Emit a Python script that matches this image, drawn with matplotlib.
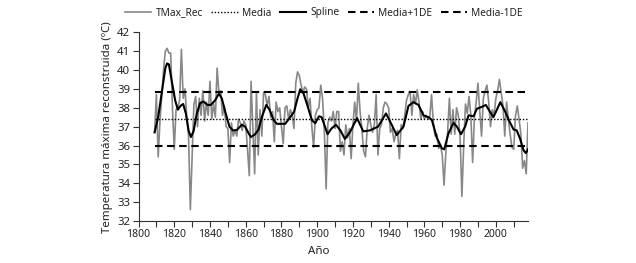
#!/usr/bin/env python
"""
Reconstructed maximum temperature series with spline and mean +/- 1 SD.
"""

import matplotlib
matplotlib.use('Agg')
import matplotlib.pyplot as plt
import matplotlib.ticker as mtick

plt.rcParams['font.family'] = ['Noto Sans', 'DejaVu Sans']

FIRST_YEAR = 1809
TMAX_REC = [
    36.7, 38.7, 35.4, 37.3, 38.6, 40.0, 41.0, 41.15, 40.9, 40.9, 38.0,  # 1809-1819
    35.8, 37.9, 38.0, 38.4, 41.1, 38.5, 39.0, 37.5, 36.5, 32.6,  # 1820s
    35.4, 38.2, 38.6, 37.0, 38.5, 37.6, 38.9, 37.3, 38.3, 37.6,  # 1830s
    39.4, 37.4, 38.2, 37.5, 40.1, 38.8, 38.9, 37.6, 38.1, 37.0,  # 1840s
    36.9, 35.1, 37.2, 36.5, 36.8, 36.5, 37.4, 37.2, 36.8, 37.3,  # 1850s
    37.1, 35.8, 34.4, 39.4, 37.0, 34.5, 38.8, 35.5, 37.9, 36.5,  # 1860s
    38.8, 38.7, 38.1, 38.6, 37.5, 37.8, 36.2, 38.3, 37.8, 38.0,  # 1870s
    37.0, 36.1, 38.0, 38.1, 37.4, 37.9, 37.6, 36.9, 39.3, 39.9,  # 1880s
    39.7, 39.2, 38.8, 39.1, 39.0, 38.0, 38.5, 37.0, 35.9, 37.6,  # 1890s
    37.9, 38.0, 39.2, 38.5, 36.8, 33.7, 37.2, 37.5, 37.3, 37.8,  # 1900s
    36.9, 37.8, 37.8, 35.7, 36.2, 35.5, 37.1, 36.4, 36.9, 35.3,  # 1910s
    37.1, 38.3, 37.3, 39.3, 37.8, 36.9, 35.7, 35.4, 36.9, 37.6,  # 1920s
    37.1, 36.7, 37.1, 38.7, 35.5, 36.9, 37.1, 38.0, 38.3, 38.2,  # 1930s
    38.0, 36.7, 36.9, 36.2, 36.6, 36.8, 35.3, 37.1, 36.9, 37.6,  # 1940s
    38.4, 38.7, 38.85, 37.6, 38.7, 38.2, 38.95, 38.3, 37.4, 37.8,  # 1950s
    37.4, 37.6, 37.4, 37.5, 38.7, 37.2, 36.5, 36.6, 35.85, 36.0,  # 1960s
    35.5, 33.9, 35.6, 36.7, 38.5, 36.6, 37.9, 36.6, 38.0, 37.6,  # 1970s
    36.4, 33.3, 36.0, 38.2, 37.7, 38.6, 37.6, 35.1, 37.5, 38.3,  # 1980s
    39.3, 37.8, 36.5, 38.5, 38.9, 39.2, 38.3, 37.0, 37.9, 37.6,  # 1990s
    38.5, 38.9, 39.5, 38.8, 38.1, 36.5, 38.3, 37.4, 36.6, 35.9,  # 2000s
    35.8, 37.6, 38.1, 37.4, 36.6, 34.8, 35.2, 34.5, 37.2,  # 2010-2018
]
YEARS = list(range(FIRST_YEAR, FIRST_YEAR + len(TMAX_REC)))

SPLINE_YEARS = [
    1809, 1811, 1813, 1815, 1816, 1817, 1819, 1820.5, 1822, 1823.5, 1825, 1826.5,
    1828, 1829.3, 1830.8, 1832.6, 1834.5, 1836.4, 1838.6, 1840.5, 1842.9, 1845,
    1846.6, 1848.5, 1850.9, 1852.8, 1855, 1857.8, 1859.7, 1861.6, 1862.9, 1865.3,
    1867.2, 1869, 1871.5, 1873.3, 1875.6, 1877.4, 1880.2, 1882.1, 1884.5, 1887.1,
    1889, 1890.5, 1892.4, 1894.6, 1897, 1898.9, 1901, 1902.5, 1904, 1905.8, 1908,
    1910.5, 1913, 1915.5, 1918.3, 1922.3, 1925.8, 1929.5, 1934.1, 1938.5, 1941.7,
    1944.5, 1948.3, 1951.1, 1953.9, 1956.7, 1959.5, 1962.3, 1964.2, 1967, 1969.8,
    1971.1, 1973.5, 1976.3, 1978.2, 1980.5, 1982.8, 1984.7, 1987.5, 1989.4, 1992.2,
    1994.4, 1996, 1998.6, 2000.6, 2002.5, 2005.2, 2007.5, 2009.9, 2011.7, 2013.6,
    2015.5, 2016.8, 2018,
]
SPLINE_VALUES = [
    36.7, 37.5, 38.8, 40.1, 40.35, 40.3, 39.2, 38.4, 37.9, 38.1, 38.2, 37.7,
    36.8, 36.45, 36.75, 37.7, 38.25, 38.33, 38.15, 38.15, 38.4, 38.75,
    38.5, 37.8, 37.0, 36.8, 36.82, 37.1, 37.0, 36.65, 36.45, 36.6,
    36.85, 37.5, 38.15, 37.9, 37.35, 37.15, 37.15, 37.15, 37.45, 37.8,
    38.5, 38.98, 38.75, 38.1, 37.35, 37.18, 37.55, 37.5, 37.1, 36.6, 36.9,
    37.1, 36.8, 36.35, 36.7, 37.45, 36.75, 36.8, 37.0, 37.7, 37.1,
    36.55, 37.0, 38.1, 38.3, 38.15, 37.6, 37.5, 37.35, 36.4, 35.85,
    35.8, 36.65, 37.2, 37.0, 36.6, 37.0, 37.6, 37.55, 37.95, 38.05,
    38.15, 37.9, 37.5, 37.9, 38.3, 37.8, 37.3, 36.85, 36.8, 36.35,
    35.75, 35.6, 35.8,
]

MEDIA = 37.4
DE = 1.42


def get_plot(outfile):
    fig = plt.figure(figsize=(6.36, 2.63), dpi=100)
    ax = fig.add_axes([0.2178, 0.1597, 0.6124, 0.7175])

    x_span = [YEARS[0], YEARS[-1]]
    ax.plot(YEARS, TMAX_REC, color='#888888', lw=1.2, label='TMax_Rec', zorder=2)
    ax.plot(x_span, [MEDIA, MEDIA], color='black', lw=1.0,
            linestyle=(0, (1, 1.3)), label='Media', zorder=3)
    ax.plot(SPLINE_YEARS, SPLINE_VALUES, color='black', lw=1.5, label='Spline', zorder=4)
    ax.plot(x_span, [MEDIA + DE] * 2, color='black', lw=1.5,
            linestyle=(0, (3.6, 2.2)), label='Media+1DE', zorder=3)
    ax.plot(x_span, [MEDIA - DE] * 2, color='black', lw=1.5,
            linestyle=(0, (3.6, 2.2)), label='Media-1DE', zorder=3)

    ax.set_xlim(1800, 2018)
    ax.set_ylim(32, 42)
    ax.xaxis.set_major_locator(mtick.FixedLocator(range(1800, 2001, 20)))
    ax.xaxis.set_minor_locator(mtick.FixedLocator(range(1810, 2011, 20)))
    ax.yaxis.set_major_locator(mtick.MultipleLocator(1))
    ax.tick_params(axis='both', which='both', direction='out', length=4, width=0.8,
                   color='#333333', labelcolor='#222222', pad=2)
    ax.tick_params(axis='x', labelsize=7.5)
    ax.tick_params(axis='y', labelsize=8.2)
    for side in ('top', 'right'):
        ax.spines[side].set_visible(False)
    for side in ('left', 'bottom'):
        ax.spines[side].set_color('#333333')
        ax.spines[side].set_linewidth(0.8)

    ax.set_ylabel('Temperatura máxima reconstruida (ºC)', fontsize=8.3, color='#222222',
                  labelpad=3)
    fig.text(319 / 636, 1 - 251 / 263, 'Año', fontsize=8.3, color='#222222',
             ha='center', va='center')

    fig.legend(loc='center', bbox_to_anchor=(324 / 636, 1 - 13 / 263), ncol=5,
               frameon=False, fontsize=7.3, handlelength=2.6, handletextpad=0.4,
               columnspacing=0.85, labelcolor='#222222')

    plt.savefig(outfile, dpi=100)


if __name__ == '__main__':
    get_plot('out.png')
